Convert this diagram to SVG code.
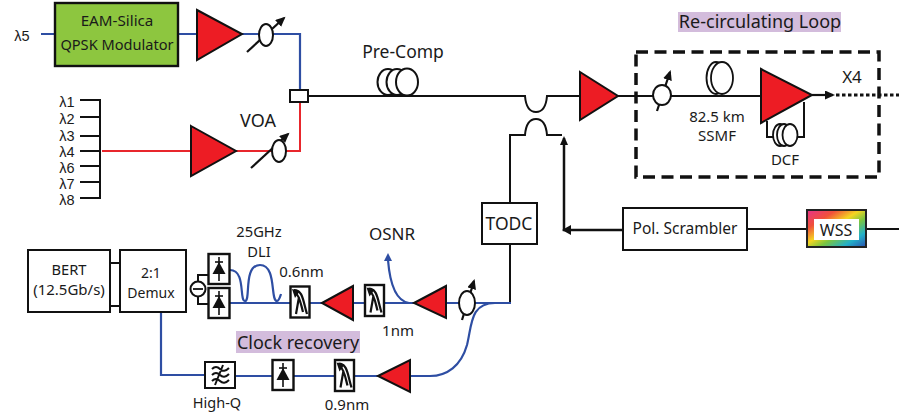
<svg xmlns="http://www.w3.org/2000/svg" xmlns:xlink="http://www.w3.org/1999/xlink" width="899" height="413" viewBox="0 0 899 413">
<style>
text{font-family:"Noto Sans","DejaVu Sans",sans-serif;font-size:14.700px;fill:#1a1a1a;text-anchor:middle}
text.lam{font-family:"Liberation Sans",sans-serif;font-size:14.500px}
.amp{fill:#ed1c24;stroke:#111;stroke-width:2}
.bk{fill:none;stroke:#111;stroke-width:2}
.bk3{fill:none;stroke:#111;stroke-width:2.5}
.bl{fill:none;stroke:#2e4ea3;stroke-width:2.2}
.rd{fill:none;stroke:#e8262c;stroke-width:2}
.box{fill:#fff;stroke:#111;stroke-width:2}
.voa{fill:#fff;stroke:#111;stroke-width:2}
.ar{stroke:#111;stroke-width:2.2;fill:none;marker-end:url(#ah)}
.ico{fill:none;stroke:#111;stroke-width:2}
.hl{fill:#d3bcdc}
</style>
<defs>
<marker id="ah" markerWidth="11" markerHeight="10" refX="8" refY="4.500" orient="auto" markerUnits="userSpaceOnUse"><path d="M0 0L10 4.500L0 9Z" fill="#111"/></marker>
<linearGradient id="rb" x1="0" y1="0" x2="1" y2="1">
<stop offset="0" stop-color="#e8328c"/><stop offset=".25" stop-color="#f0503a"/><stop offset=".45" stop-color="#f5d522"/><stop offset=".6" stop-color="#7cc63f"/><stop offset=".8" stop-color="#22b0c8"/><stop offset="1" stop-color="#2a4fb0"/>
</linearGradient>
<g id="det">
<rect x="-10.500" y="-15" width="21" height="30" fill="#fff" stroke="#111" stroke-width="2.400"/>
<path d="M0-12V12" stroke="#111" stroke-width="1.600"/><path d="M-6.500 5L0-7L6.500 5Z" fill="#111"/><path d="M-4-7H4" stroke="#111" stroke-width="1.600"/>
</g>
<g id="flt">
<rect x="-9.500" y="-15.500" width="19" height="31" fill="#fff" stroke="#111" stroke-width="2.400"/>
<path d="M-1-5L-4 12M-6-12C3-12 3-1 7 12M-5-10C0-6 1 3 3 10" fill="none" stroke="#111" stroke-width="2.200"/>
<path d="M-8-13L0-11L-5-4Z" fill="#111"/>
</g>
</defs>

<g id="connectors">
<path class="bl" d="M41 34H55M178 34H197M242 34H300V90"/>
<path class="rd" d="M102 151H191M236 151H300V103"/>
<path class="bk" d="M80 100H100M80 117H100M80 136H100M80 151H100M80 166H100M80 182H100M80 198H100M100 99V199"/>
<path class="bk" d="M308 96H525C526 108 530 112 536 112C542 112 546 108 547 96H580"/>
<path class="bk" d="M618 96H761"/>
<path class="ar" d="M812 95H833"/>
<path d="M836 95H899" fill="none" stroke="#111" stroke-width="3.200" stroke-dasharray="3.500 2.500"/>
<path class="bk" d="M767 121V137H778M792 137H804V102"/>
<path class="bk" d="M510 203V135H525C526 123 530 119 536 119C542 119 546 123 547 135H562"/>
<path class="bk" d="M510 244V303"/>
<path class="bk3" d="M623 230H564V138"/>
<path d="M562 230L571 225V235Z" fill="#111"/>
<path d="M564 136L560 145H568Z" fill="#111"/>
<path class="bk" d="M747 229H807M866 229H899"/>
<path class="bk" d="M110 263H120M110 306H120"/>
<path class="bk" d="M198 281V275H208M198 297V304H208"/>
<path class="bl" d="M229 303H290M310 303H322M353 303H365M384 303H414M446 303H511"/>
<path class="bl" d="M230 270C246 270 239 301 245 301C251 301 243 265 260 265C277 265 270 301 277 301C279 301 280 297 281 294"/>
<path class="bl" d="M409 303C396 301 390 285 388 260"/>
<path d="M388 253L384 261H392Z" fill="#2e4ea3"/>
<path class="bl" d="M511 303H495C470 303 472 325 467 345C461 366 447 376 430 376H410M378 376H354M335 376H293M273 376H235M205 375H161V312"/>
</g>

<g id="modulator"><rect x="55" y="3" width="123" height="63" fill="#8dc63f" stroke="#111" stroke-width="2.400"/><text x="117" y="26" style="font-size:15.200px">EAM-Silica</text><text x="117" y="50" style="font-size:14.600px">QPSK Modulator</text></g>
<g id="amp1"><path class="amp" d="M197 10L242 34L197 60Z"/></g>
<g id="voa1"><path class="ar" d="M247 52L284 18"/><ellipse class="voa" cx="266" cy="35" rx="7" ry="11"/></g>
<g id="coupler"><rect x="290" y="90" width="18" height="12" class="box"/></g>
<g id="amp2"><path class="amp" d="M191 126L236 151L191 176Z"/></g>
<g id="voa2"><path class="ar" d="M251 168L288 134"/><ellipse class="voa" cx="279" cy="151" rx="7" ry="11"/></g>
<g id="lambda-labels">
<text class="lam" x="22" y="41">λ5</text>
<text class="lam" x="67" y="107">λ1</text><text class="lam" x="67" y="124">λ2</text><text class="lam" x="67" y="141">λ3</text><text class="lam" x="67" y="157">λ4</text><text class="lam" x="67" y="173">λ6</text><text class="lam" x="67" y="189">λ7</text><text class="lam" x="67" y="205">λ8</text>
</g>
<text x="258" y="127" style="font-size:18px">VOA</text>

<g id="precomp"><ellipse cx="388" cy="82" rx="10.500" ry="13" fill="#fff" stroke="#111" stroke-width="2"/><ellipse cx="397" cy="82" rx="10.500" ry="13" fill="#fff" stroke="#111" stroke-width="2"/><ellipse cx="407" cy="82" rx="11" ry="13.500" fill="#fff" stroke="#111" stroke-width="2"/></g>
<text x="403" y="58" style="font-size:17.500px">Pre-Comp</text>

<g id="amp3"><path class="amp" d="M580 72L618 96L580 120Z"/></g>

<g id="loop">
<rect x="636" y="52" width="243" height="125" fill="none" stroke="#111" stroke-width="3.500" stroke-dasharray="12 6.500"/>
<rect class="hl" x="678" y="12" width="163" height="20"/>
<text x="760" y="28" style="font-size:18px">Re-circulating Loop</text>
<g id="voa3"><path class="ar" d="M657 111L670 72"/><ellipse class="voa" cx="662" cy="95" rx="9" ry="10"/></g>
<g id="ssmf"><ellipse cx="716" cy="78" rx="9.500" ry="16" fill="#fff" stroke="#111" stroke-width="1.800"/><ellipse cx="722" cy="78" rx="11" ry="16" fill="#fff" stroke="#111" stroke-width="1.800"/></g>
<text x="717" y="122" style="font-size:15px">82.5 km</text><text x="717" y="141" style="font-size:15px">SSMF</text>
<g id="amp4"><path class="amp" d="M761 69L812 95L761 123Z"/></g>
<g id="dcf"><ellipse cx="780" cy="135" rx="7" ry="11" fill="#fff" stroke="#111" stroke-width="1.800"/><ellipse cx="784" cy="135" rx="7" ry="11" fill="#fff" stroke="#111" stroke-width="1.800"/><ellipse cx="790" cy="135" rx="7.500" ry="11" fill="#fff" stroke="#111" stroke-width="1.800"/></g>
<text x="785" y="165" style="font-size:15px">DCF</text>
<text x="852" y="83" style="font-size:17px">X4</text>
</g>

<g id="scrambler"><rect x="623" y="208" width="124" height="42" class="box"/><text x="685" y="234" style="font-size:15.500px">Pol. Scrambler</text></g>
<g id="wss"><rect x="807" y="210" width="59" height="37" fill="url(#rb)" stroke="#222" stroke-width="2"/><rect x="814" y="219" width="45" height="21" fill="#fff"/><text x="836" y="236" style="font-size:16px">WSS</text></g>
<g id="todc"><rect x="482" y="203" width="55" height="41" class="box"/><text x="509" y="230" style="font-size:17.500px">TODC</text></g>

<g id="bert"><rect x="28" y="250" width="82" height="62" class="box"/><text x="69" y="275">BERT</text><text x="69" y="295" style="font-size:15px">(12.5Gb/s)</text></g>
<g id="demux"><rect x="120" y="250" width="66" height="62" class="box"/><text x="151" y="278" style="font-size:14px">2:1</text><text x="151" y="298" style="font-size:14px">Demux</text></g>
<g id="minus"><circle cx="198" cy="289" r="7.500" fill="#fff" stroke="#111" stroke-width="2"/><path d="M193 289H203" stroke="#111" stroke-width="1.800"/></g>
<g id="det1"><use xlink:href="#det" x="219" y="269"/></g>
<g id="det2"><use xlink:href="#det" x="219" y="303"/></g>
<text x="259" y="237">25GHz</text><text x="259" y="257">DLI</text>
<text x="301.500" y="277" style="font-size:15px">0.6nm</text>
<g id="filter06"><use xlink:href="#flt" x="300" y="302"/></g>
<g id="amp5"><path class="amp" d="M322 303L353 286V320Z"/></g>
<g id="filter1"><use xlink:href="#flt" x="374.500" y="300.500"/></g>
<text x="398" y="336" style="font-size:15px">1nm</text>
<g id="amp6"><path class="amp" d="M414 303L446 286V318Z"/></g>
<g id="voa4"><path class="ar" d="M462 320L474 281"/><ellipse class="voa" cx="467" cy="303" rx="8" ry="12"/></g>
<text x="392" y="240" style="font-size:17px">OSNR</text>

<rect class="hl" x="236" y="331" width="124" height="22"/>
<text x="298" y="349" style="font-size:18px">Clock recovery</text>
<g id="highq"><rect x="205" y="362" width="30" height="26" class="box"/><path class="ico" d="M212 369Q216 365 220 369T229 368M212 375Q216 371 220 375T229 374M212 381Q216 377 220 381T229 380M223 365L215 385"/></g>
<text x="217" y="408" style="font-size:14.500px">High-Q</text>
<g id="det3"><use xlink:href="#det" x="283" y="375"/></g>
<g id="filter09"><use xlink:href="#flt" x="344.500" y="375.500"/></g>
<text x="347" y="410" style="font-size:15px">0.9nm</text>
<g id="amp7"><path class="amp" d="M378 376L410 360V392Z"/></g>
</svg>
